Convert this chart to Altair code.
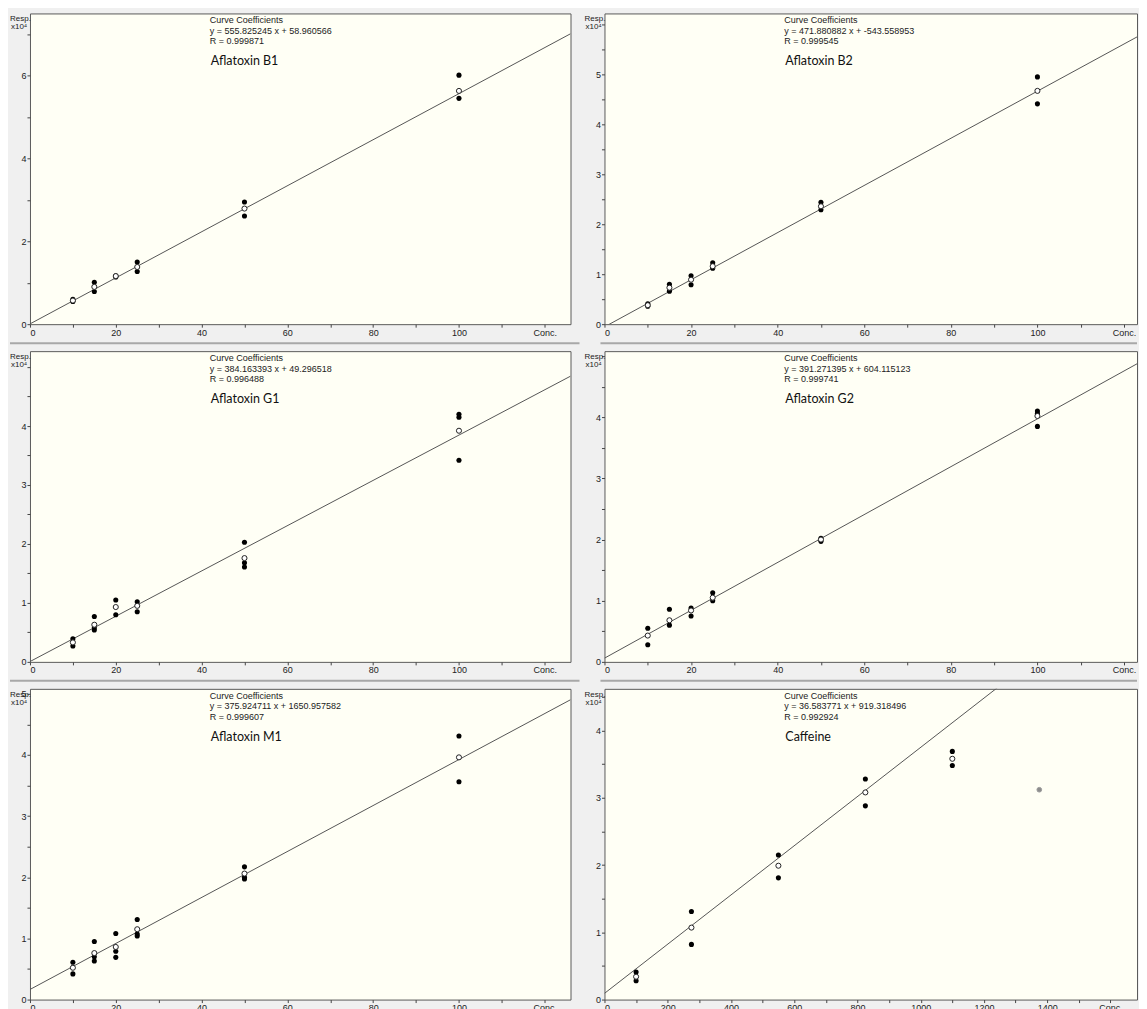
import altair as alt
import pandas as pd

NAMES = ["Aflatoxin B1", "Aflatoxin B2", "Aflatoxin G1", "Aflatoxin G2", "Aflatoxin M1", "Caffeine"]
SLOPES = [555.825245, 471.880882, 384.163393, 391.271395, 375.924711, 36.583771]
INTERCEPTS = [58.960566, -543.558953, 49.296518, 604.115123, 1650.957582, 919.318496]
R_VALUES = [0.999871, 0.999545, 0.996488, 0.999741, 0.999607, 0.992924]

# mean responses (open circles), in units of 10^4
MEAN_CONC = [
    [10, 15, 20, 25, 50, 100],
    [10, 15, 20, 25, 50, 100],
    [10, 15, 20, 25, 50, 100],
    [10, 15, 20, 25, 50, 100],
    [10, 15, 20, 25, 50, 100],
    [100, 275, 550, 825, 1100],
]
MEAN_RESP = [
    [0.57, 0.90, 1.16, 1.38, 2.79, 5.63],
    [0.38, 0.73, 0.89, 1.16, 2.36, 4.67],
    [0.33, 0.63, 0.93, 0.95, 1.76, 3.92],
    [0.43, 0.68, 0.84, 1.05, 2.00, 4.02],
    [0.52, 0.76, 0.86, 1.15, 2.06, 3.96],
    [0.34, 1.07, 1.99, 3.08, 3.58],
]
# replicate responses (filled dots), in units of 10^4
REP_CONC = [
    [10, 10, 15, 15, 20, 20, 25, 25, 50, 50, 100, 100],
    [10, 10, 15, 15, 20, 20, 25, 25, 50, 50, 100, 100],
    [10, 10, 15, 15, 15, 20, 20, 25, 25, 50, 50, 50, 100, 100, 100],
    [10, 10, 15, 15, 20, 20, 25, 25, 50, 50, 100, 100, 100],
    [10, 10, 15, 15, 15, 20, 20, 20, 25, 25, 25, 50, 50, 50, 100, 100],
    [100, 100, 275, 275, 550, 550, 825, 825, 1100, 1100],
]
REP_RESP = [
    [0.55, 0.60, 1.01, 0.79, 1.17, 1.14, 1.50, 1.27, 2.95, 2.61, 6.01, 5.45],
    [0.36, 0.41, 0.80, 0.66, 0.97, 0.79, 1.23, 1.12, 2.44, 2.29, 4.95, 4.41],
    [0.39, 0.27, 0.77, 0.58, 0.54, 1.05, 0.80, 1.02, 0.85, 2.03, 1.68, 1.61, 4.20, 4.15, 3.42],
    [0.55, 0.28, 0.86, 0.60, 0.88, 0.75, 1.13, 1.00, 2.02, 1.97, 4.10, 4.06, 3.85],
    [0.61, 0.42, 0.95, 0.70, 0.63, 1.08, 0.79, 0.69, 1.31, 1.07, 1.04, 2.17, 2.00, 1.97, 4.31, 3.56],
    [0.41, 0.28, 1.31, 0.82, 2.15, 1.81, 3.28, 2.88, 3.69, 3.48],
]
EXCL_CONC = [[], [], [], [], [], [1375]]
EXCL_RESP = [[], [], [], [], [], [3.12]]

X_MAX = [126, 123, 126, 123, 126, 1684]
Y_MAX = [7.5, 6.22, 5.27, 5.08, 5.08, 4.62]
X_TICKS = [list(range(0, 121, 10))] * 5 + [list(range(0, 1601, 100))]
X_LABEL_STEP = [20, 20, 20, 20, 20, 200]
X_CONC_AT = [120, 120, 120, 120, 120, 1600]
Y_TICKS = [[0, 1, 2, 3, 4, 5, 6, 7]] + [[k * 0.5 for k in range(0, 13)]] * 5
Y_LABELS = [[0, 2, 4, 6], [0, 1, 2, 3, 4, 5], [0, 1, 2, 3, 4], [0, 1, 2, 3, 4], [0, 1, 2, 3, 4, 5], [0, 1, 2, 3, 4]]

WIDTHS = [541, 533]
HEIGHT = 311

FONT = "Liberation Sans"


def panel(i):
    w = WIDTHS[i % 2]
    h = HEIGHT
    xs = alt.Scale(domain=[0, X_MAX[i]], nice=False, zero=False)
    ys = alt.Scale(domain=[0, Y_MAX[i]], nice=False, zero=False)
    xaxis = alt.Axis(
        values=X_TICKS[i], title=None, grid=False,
        labelExpr=f"datum.value == {X_CONC_AT[i]} ? 'Conc.' : (datum.value % {X_LABEL_STEP[i]} == 0 ? format(datum.value, 'd') : '')",
    )
    yvals = [v for v in Y_TICKS[i] if v <= Y_MAX[i]]
    lab = "[" + ",".join(str(v) for v in Y_LABELS[i]) + "]"
    yaxis = alt.Axis(
        values=yvals, title=None, grid=False,
        labelExpr=f"indexof({lab}, datum.value) >= 0 ? format(datum.value, 'd') : ''",
    )
    X = alt.X("x:Q", scale=xs, axis=xaxis)
    Y = alt.Y("y:Q", scale=ys, axis=yaxis)

    line_df = pd.DataFrame({
        "x": [0, X_MAX[i]],
        "y": [INTERCEPTS[i] / 1e4, (SLOPES[i] * X_MAX[i] + INTERCEPTS[i]) / 1e4],
    })
    rep_df = pd.DataFrame({"x": REP_CONC[i], "y": REP_RESP[i]})
    mean_df = pd.DataFrame({"x": MEAN_CONC[i], "y": MEAN_RESP[i]})
    excl_df = pd.DataFrame({"x": EXCL_CONC[i], "y": EXCL_RESP[i]})
    txt_df = pd.DataFrame({
        "name": [NAMES[i]],
        "eq": [f"y = {SLOPES[i]:.6f} x + {INTERCEPTS[i]:.6f}"],
        "r": [f"R = {R_VALUES[i]:.6f}"],
        "hdr": ["Curve Coefficients"],
        "resp": ["Resp."],
        "x10": ["x10\u2074"],
    })

    layers = [
        alt.Chart(line_df).mark_line(clip=True, color="#555555", strokeWidth=1).encode(x=X, y=Y),
        alt.Chart(rep_df).mark_point(shape="circle", filled=True, color="#000000", size=26, opacity=1).encode(x=X, y=Y),
        alt.Chart(mean_df).mark_point(shape="circle", filled=True, fill="#ffffff", stroke="#222222",
                                      strokeWidth=1, size=26, opacity=1).encode(x=X, y=Y),
    ]
    if len(EXCL_CONC[i]):
        layers.append(alt.Chart(excl_df).mark_point(shape="circle", filled=True, fill="#8c8c8c", stroke="#9a9a9a",
                                                    strokeWidth=1, size=22, opacity=1).encode(x=X, y=Y))
    base = alt.Chart(txt_df)
    layers += [
        base.mark_text(align="left", baseline="alphabetic", font=FONT, fontSize=9, color="#222222").encode(
            x=alt.value(180), y=alt.value(10), text="hdr:N"),
        base.mark_text(align="left", baseline="alphabetic", font=FONT, fontSize=9, color="#222222").encode(
            x=alt.value(180), y=alt.value(20.5), text="eq:N"),
        base.mark_text(align="left", baseline="alphabetic", font=FONT, fontSize=9, color="#222222").encode(
            x=alt.value(180), y=alt.value(31), text="r:N"),
        base.mark_text(align="left", baseline="alphabetic", font="Lato", fontSize=12.5, color="#111111").encode(
            x=alt.value(181), y=alt.value(52), text="name:N"),
        base.mark_text(align="left", baseline="alphabetic", font=FONT, fontSize=8, color="#222222").encode(
            x=alt.value(-20), y=alt.value(8), text="resp:N"),
        base.mark_text(align="left", baseline="alphabetic", font=FONT, fontSize=8, color="#222222").encode(
            x=alt.value(-19), y=alt.value(16), text="x10:N"),
    ]
    if i < 4:
        x0 = -20 if i % 2 == 0 else -4
        x1 = w + 9 if i % 2 == 0 else w
        layers.append(base.mark_rule(color="#a8a8a8", strokeWidth=2).encode(
            x=alt.value(x0), x2=alt.value(x1), y=alt.value(h + 19)))
    return alt.layer(*layers).properties(width=w, height=h)


chart = alt.concat(*[panel(i) for i in range(6)], columns=2,
                   spacing={"row": 27, "column": 34}, bounds="flush").properties(
    padding={"left": 0, "top": 4, "right": 0, "bottom": 0},
    background="#f0f0f0",
).configure_view(
    fill="#fffff5", stroke="#5a5a5a", strokeWidth=1,
).configure_axis(
    domain=False, ticks=True, tickSize=3, tickColor="#444444", tickWidth=1,
    labelFont=FONT, labelFontSize=9, labelColor="#222222", labelPadding=1,
)

chart.save("out.html", embed_options={"renderer": "svg", "actions": False})
